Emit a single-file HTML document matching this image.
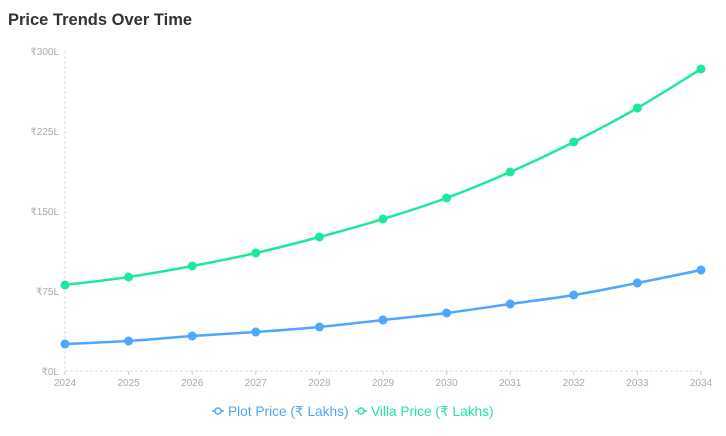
<!DOCTYPE html>
<html><head><meta charset="utf-8"><style>
body{margin:0;background:#fff;width:726px;height:431px;overflow:hidden;font-family:"Liberation Sans",sans-serif}
</style></head><body>
<svg id="s" width="726" height="431" xmlns="http://www.w3.org/2000/svg">
<text x="8" y="25" font-size="16.5" font-weight="bold" fill="#333" font-family="Liberation Sans, sans-serif">Price Trends Over Time</text>
<g font-size="10" fill="#aaa" text-anchor="end" font-family="Liberation Sans, sans-serif">
<text x="59" y="55">₹300L</text><text x="59" y="135">₹225L</text><text x="59" y="215">₹150L</text><text x="59" y="295">₹75L</text><text x="59" y="375">₹0L</text>
</g>
<line x1="65" y1="51" x2="65" y2="371" stroke="#d6d9ef" stroke-dasharray="3 2"/>
<line x1="65" y1="371" x2="701" y2="371" stroke="#d6d9ef" stroke-dasharray="3 2"/>
<g id="g"></g>
<g font-size="13.7" font-family="Liberation Sans, sans-serif">
<line x1="212" y1="411" x2="224" y2="411" stroke="#4da6ff" stroke-width="1.5"/><circle cx="218" cy="411" r="3" fill="#fff" stroke="#4da6ff" stroke-width="1.5"/>
<text x="228" y="416" fill="#4da6ff">Plot Price (₹ Lakhs)</text>
<line x1="355" y1="411" x2="367" y2="411" stroke="#1ee89a" stroke-width="1.5"/><circle cx="361" cy="411" r="3" fill="#fff" stroke="#1ee89a" stroke-width="1.5"/>
<text x="371" y="416" fill="#1ee89a">Villa Price (₹ Lakhs)</text>
</g>
</svg>
<script>
var g=document.getElementById('g');
var villa=[285,277,266,253,237,219,198,172,142,108,69],plot=[344,341,336,332,327,320,313,304,295,283,270];
function x(i){return 65+i*63.6}
var h='';
for(var i=0;i<11;i++){h+='<line x1="'+x(i)+'" y1="371" x2="'+x(i)+'" y2="375" stroke="#ccc"/><text x="'+x(i)+'" y="386" font-size="10" fill="#aaa" text-anchor="middle" font-family="Liberation Sans, sans-serif">'+(2024+i)+'</text>';}
function path(d,c){var p='M'+x(0)+','+d[0];for(var i=0;i<d.length-1;i++){var p0=d[Math.max(i-1,0)],p1=d[i],p2=d[i+1],p3=d[Math.min(i+2,d.length-1)];var x0=x(Math.max(i-1,0)),x1=x(i),x2=x(i+1),x3=x(Math.min(i+2,d.length-1));p+=' C'+(x1+(x2-x0)/6)+','+(p1+(p2-p0)/6)+' '+(x2-(x3-x1)/6)+','+(p2-(p3-p1)/6)+' '+x2+','+p2;}
var s='<path d="'+p+'" fill="none" stroke="'+c+'" stroke-width="2.5"/>';for(var i=0;i<d.length;i++)s+='<circle cx="'+x(i)+'" cy="'+d[i]+'" r="4.5" fill="'+c+'"/>';return s;}
h+=path(plot,'#4da6ff')+path(villa,'#1ee89a');
g.innerHTML=h;
</script>
</body></html>
